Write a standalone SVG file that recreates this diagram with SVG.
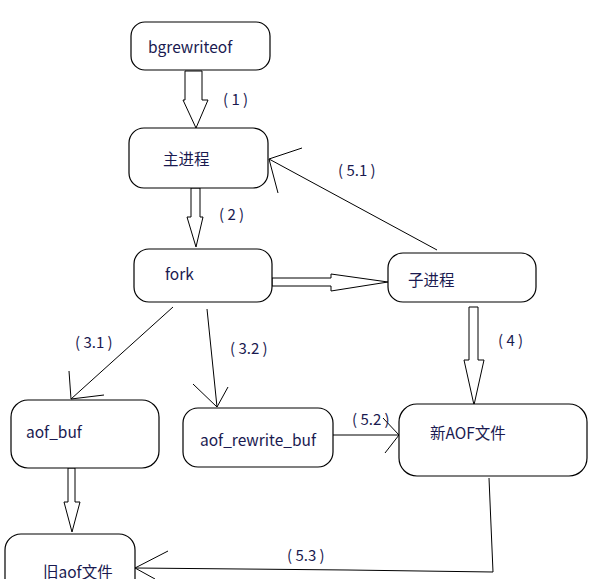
<svg xmlns="http://www.w3.org/2000/svg" width="600" height="579" viewBox="0 0 600 579">
<style>
.box{fill:#fff;stroke:#000;stroke-width:1.2}
.t{font-family:"Noto Sans CJK SC","Liberation Sans",sans-serif;font-size:15.5px;fill:#1a1a50}
.l{font-family:"Noto Sans CJK SC","Liberation Sans",sans-serif;font-size:15px;fill:#1a1a50;white-space:pre}
.c{fill:none;stroke:#000;stroke-width:1}
.blk{fill:#fff;stroke:#000;stroke-width:1}
</style>
<rect width="600" height="579" fill="#fff"/>
<g id="connectors">
  <polygon class="blk" points="185,71 202,71 202,100 208,100 196,128 183,100 185,100"/>
  <polygon class="blk" points="191,188 200,188 200,217 203,217 196,247 187,217 191,217"/>
  <polygon class="blk" points="272,278 331,278 331,274 388,282 331,291 331,286 272,286"/>
  <line class="c" x1="388" y1="282" x2="391" y2="282"/>
  <polygon class="blk" points="469,307 478,307 478,360 484,360 474,405 464,360 469,360"/>
  <line x1="474" y1="405" x2="474" y2="411" stroke="#000" stroke-width="2"/>
  <polygon class="blk" points="68,468 75,468 75,502 80,502 72,532 64,502 68,502"/>
  <line class="c" x1="437" y1="250" x2="269" y2="159"/>
  <line class="c" x1="269" y1="159" x2="302" y2="148"/>
  <line class="c" x1="269" y1="159" x2="278" y2="193"/>
  <line class="c" x1="173" y1="307" x2="71" y2="399"/>
  <line class="c" x1="71" y1="399" x2="69" y2="371"/>
  <line class="c" x1="71" y1="399" x2="104" y2="395"/>
  <line class="c" x1="207" y1="309" x2="217" y2="407"/>
  <line class="c" x1="217" y1="407" x2="193" y2="384"/>
  <line class="c" x1="217" y1="407" x2="228" y2="387"/>
  <line class="c" x1="333" y1="435" x2="399" y2="435"/>
  <line class="c" x1="399" y1="435" x2="383" y2="418"/>
  <line class="c" x1="399" y1="435" x2="385" y2="453"/>
  <polyline class="c" points="489,478 493,572 348,570 135,568"/>
  <line class="c" x1="135" y1="568" x2="168" y2="551"/>
  <line class="c" x1="135" y1="568" x2="155" y2="579"/>
  <text class="l" x="223" y="105">( 1 )</text>
  <text class="l" x="219" y="220">( 2 )</text>
  <text class="l" x="338" y="176">( 5.1 )</text>
  <text class="l" x="75" y="348">( 3.1 )</text>
  <text class="l" x="230" y="354">( 3.2 )</text>
  <text class="l" x="498" y="346">( 4 )</text>
  <text class="l" x="352" y="425">( 5.2 )</text>
  <text class="l" x="287" y="561">( 5.3 )</text>
</g>
<g id="bgrewriteof"><rect class="box" x="131" y="22" width="139" height="48" rx="14"/><text class="t" x="148" y="53">bgrewriteof</text></g>
<g id="main"><rect class="box" x="129" y="128" width="139" height="60" rx="15"/><text class="t" x="163" y="165">主进程</text></g>
<g id="fork"><rect class="box" x="134" y="249" width="138" height="53" rx="15"/><text class="t" x="165" y="280">fork</text></g>
<g id="child"><rect class="box" x="388" y="253" width="148" height="49" rx="15"/><text class="t" x="408" y="286">子进程</text></g>
<g id="aof_buf"><rect class="box" x="11" y="400" width="148" height="68" rx="17"/><text class="t" x="26" y="438">aof_buf</text></g>
<g id="aof_rewrite_buf"><rect class="box" x="183" y="408" width="150" height="59" rx="15"/><text class="t" x="200" y="446">aof_rewrite_buf</text></g>
<g id="newaof"><rect class="box" x="399" y="404" width="188" height="72" rx="18"/><text class="t" x="430" y="439">新AOF文件</text></g>
<g id="oldaof"><rect class="box" x="5" y="534" width="130" height="70" rx="16"/><text class="t" x="43" y="578">旧aof文件</text></g>
</svg>
